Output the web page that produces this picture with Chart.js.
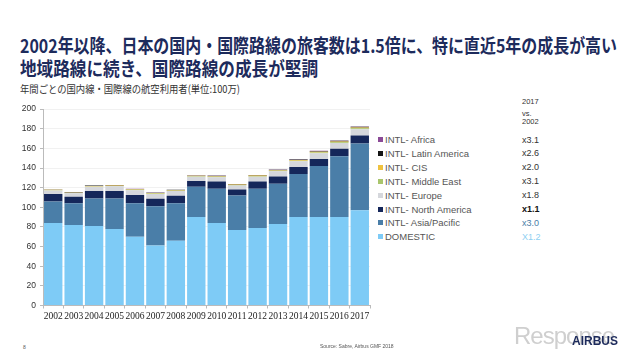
<!DOCTYPE html>
<html>
<head>
<meta charset="utf-8">
<script src="https://cdn.jsdelivr.net/npm/chart.js@4"></script>
<style>
  body { margin: 0; width: 640px; height: 360px; background: #fff; position: relative; overflow: hidden;
         font-family: "Liberation Sans", Arial, sans-serif; }
  .fit { position: absolute; left: 20px; font-family: "Noto Sans CJK JP", sans-serif;
         transform-origin: left top; white-space: nowrap; line-height: 1; }
  .title { font-weight: bold; font-size: 19px; color: #1d2b5c; }
  .sub { font-size: 10.5px; color: #333; }
  #wrap { position: absolute; left: 0; top: 100px; width: 372px; height: 226px; }
  .leg { position: absolute; left: 378px; font-size: 9.5px; color: #555; white-space: nowrap; }
  .leg i { display: inline-block; width: 5px; height: 5px; margin-right: 2px; vertical-align: 1px; }
  .mult { position: absolute; left: 522px; font-size: 9px; color: #333; }
  .hdr { position: absolute; left: 522px; font-size: 7.5px; color: #333; }
</style>
</head>
<body>
<div class="fit title" data-w="597" style="top:35px">2002年以降、日本の国内・国際路線の旅客数は1.5倍に、特に直近5年の成長が高い</div>
<div class="fit title" data-w="298" style="top:58px">地域路線に続き、国際路線の成長が堅調</div>
<div class="fit sub" data-w="220" style="top:84px">年間ごとの国内線・国際線の航空利用者(単位:100万)</div>

<div id="wrap"><canvas id="airChart"></canvas></div>

<div class="hdr" style="top:97px">2017</div>
<div class="hdr" style="top:109px">vs.</div>
<div class="hdr" style="top:117px">2002</div>
<div id="legend"></div>

<div style="position:absolute;left:23px;top:344px;font-size:5px;color:#555">8</div>
<div style="position:absolute;left:320px;top:343px;font-size:5px;color:#555">Source: Sabre, Airbus GMF 2018</div>
<div style="position:absolute;left:514px;top:322px;font-size:24px;color:#cfcfcf;letter-spacing:-1px">Response</div>
<div style="position:absolute;left:572px;top:334px;font-size:12px;font-weight:bold;color:#1d2b5c">AIRBUS</div>

<script>
// Categories and values (millions of passengers)
const years = ['2002','2003','2004','2005','2006','2007','2008','2009','2010','2011','2012','2013','2014','2015','2016','2017'];

const domestic     = [84, 82, 81, 78, 70, 61, 66, 90, 84, 77, 79, 83, 90, 90, 90, 97];
const asiaPacific  = [22, 22, 28, 31, 34, 40, 38, 31, 35, 35, 40, 41, 44, 52, 62, 68];
const northAmerica = [7.5, 6.7, 7.7, 7.6, 8.6, 7.6, 7.7, 5.7, 7.3, 6.0, 7.3, 7.3, 7.0, 7.3, 7.7, 8.0];
const europe       = [3.6, 3.5, 4.2, 4.8, 4.8, 5.0, 4.8, 4.4, 4.4, 4.2, 4.8, 5.3, 5.8, 5.8, 5.8, 6.5];
const middleEast   = [0.3, 0.3, 0.4, 0.4, 0.4, 0.4, 0.4, 0.5, 0.5, 0.5, 0.6, 0.6, 0.7, 0.8, 0.8, 0.9];
const cis          = [0.4, 0.4, 0.5, 0.5, 0.5, 0.5, 0.5, 0.5, 0.5, 0.5, 0.6, 0.6, 0.6, 0.7, 0.7, 0.8];
const latinAmerica = [0.3, 0.3, 0.3, 0.3, 0.4, 0.4, 0.4, 0.4, 0.4, 0.4, 0.5, 0.5, 0.6, 0.6, 0.7, 0.8];
const africa       = [0.1, 0.1, 0.1, 0.1, 0.1, 0.1, 0.1, 0.2, 0.2, 0.2, 0.2, 0.2, 0.2, 0.3, 0.3, 0.3];

const seriesNames  = ['DOMESTIC', 'INTL- Asia/Pacific', 'INTL- North America', 'INTL- Europe',
                      'INTL- Middle East', 'INTL- CIS', 'INTL- Latin America', 'INTL- Africa'];
const seriesData   = [domestic, asiaPacific, northAmerica, europe, middleEast, cis, latinAmerica, africa];
const seriesColors = ['#7ecbf6', '#4a7ea8', '#15275a', '#d5d7dc', '#a9c56c', '#efc23f', '#151515', '#8b4a97'];
const multipliers  = ['X1.2', 'x3.0', 'x1.1', 'x1.8', 'x3.1', 'x2.0', 'x2.6', 'x3.1'];
const multColors   = ['#8fd0f2', '#4a7ea8', '#111', '#333', '#333', '#333', '#333', '#333'];
const yTicks       = [0, 20, 40, 60, 80, 100, 120, 140, 160, 180, 200];

// squeeze the heading texts to the width they take on the slide
document.querySelectorAll('.fit').forEach(el => {
  const w = el.getBoundingClientRect().width;
  el.style.transform = `scaleX(${el.dataset.w / w})`;
});

// HTML legend, top to bottom in reverse stacking order
const legend = document.getElementById('legend');
for (let i = seriesNames.length - 1; i >= 0; i--) {
  const row = seriesNames.length - 1 - i;
  const top = 134 + row * 13.9;
  const item = document.createElement('div');
  item.className = 'leg';
  item.style.top = top + 'px';
  item.innerHTML = `<i style="background:${seriesColors[i]}"></i>${seriesNames[i]}`;
  legend.appendChild(item);
  const m = document.createElement('div');
  m.className = 'mult';
  m.style.top = (top + 0.5) + 'px';
  m.style.color = multColors[i];
  if (i === 2) m.style.fontWeight = 'bold';
  m.textContent = multipliers[i];
  legend.appendChild(m);
}

const ctx = document.getElementById('airChart').getContext('2d');
new Chart(ctx, {
  type: 'bar',
  data: {
    labels: years,
    datasets: seriesData.map((d, i) => ({
      label: seriesNames[i],
      data: d,
      backgroundColor: seriesColors[i],
      borderWidth: 0,
      categoryPercentage: 1.0,
      barPercentage: 0.9
    }))
  },
  options: {
    responsive: true,
    maintainAspectRatio: false,
    animation: false,
    layout: { padding: { top: 2, right: 2, left: 0, bottom: 0 } },
    plugins: { legend: { display: false }, tooltip: { enabled: false } },
    scales: {
      x: {
        stacked: true,
        grid: { drawOnChartArea: false, drawTicks: true, tickLength: 3, color: '#bbb' },
        border: { color: '#bbb' },
        ticks: { color: '#222', font: { family: 'Liberation Sans Narrow', size: 9.5 }, maxRotation: 0, autoSkip: false, padding: 2 },
        afterFit: (scale) => { scale.height = 20.5; }
      },
      y: {
        stacked: true,
        min: 0,
        max: 200,
        afterBuildTicks: (scale) => { scale.ticks = yTicks.map(v => ({ value: v })); },
        grid: { color: '#f1f1f1', drawTicks: true, tickLength: 3, tickColor: '#bbb' },
        border: { color: '#bbb' },
        ticks: { color: '#333', font: { family: 'Liberation Sans', size: 8.5 }, padding: 4 },
        afterFit: (scale) => { scale.width = 43; }
      }
    }
  }
});
</script>
</body>
</html>
